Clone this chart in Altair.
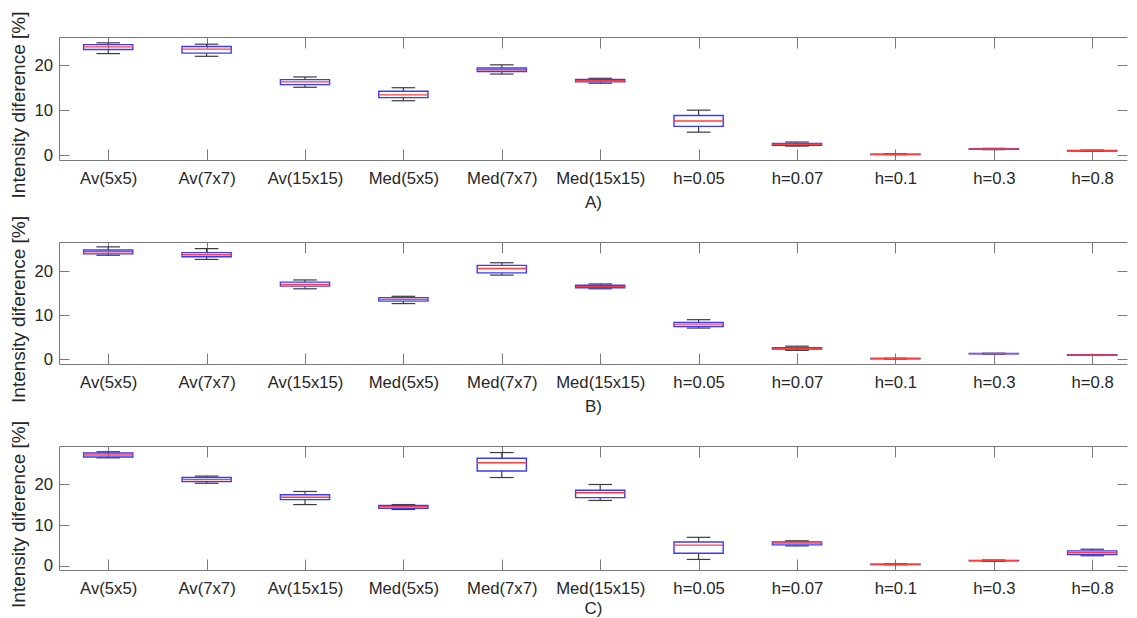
import json
import altair as alt
import pandas as pd

categories = ["Av(5x5)", "Av(7x7)", "Av(15x15)", "Med(5x5)", "Med(7x7)", "Med(15x15)",
              "h=0.05", "h=0.07", "h=0.1", "h=0.3", "h=0.8"]

# Panel A
a_upper = [25.0, 24.7, 17.4, 15.0, 20.1, 17.1, 10.0, 2.9, 0.25, 1.5, 1.1]
a_q3 = [24.6, 24.2, 16.8, 14.2, 19.4, 16.85, 8.8, 2.6, 0.2, 1.4, 1.0]
a_med = [24.1, 23.6, 16.3, 13.4, 19.0, 16.55, 7.6, 2.4, 0.15, 1.35, 0.95]
a_q1 = [23.5, 22.7, 15.7, 12.8, 18.6, 16.3, 6.4, 2.2, 0.12, 1.3, 0.9]
a_lower = [22.6, 22.0, 15.1, 12.1, 18.05, 16.0, 5.1, 2.0, 0.1, 1.2, 0.85]

# Panel B
b_upper = [25.5, 25.1, 18.0, 14.3, 21.9, 17.1, 9.0, 3.0, 0.25, 1.4, 1.1]
b_q3 = [24.8, 24.2, 17.5, 14.0, 21.3, 16.8, 8.4, 2.65, 0.2, 1.35, 1.05]
b_med = [24.4, 23.7, 17.0, 13.6, 20.6, 16.5, 8.0, 2.5, 0.2, 1.3, 1.0]
b_q1 = [23.9, 23.25, 16.6, 13.2, 19.6, 16.25, 7.45, 2.35, 0.15, 1.25, 0.95]
b_lower = [23.6, 22.65, 16.0, 12.65, 19.1, 16.0, 7.1, 2.05, 0.1, 1.2, 0.9]

# Panel C
c_upper = [27.9, 21.95, 18.2, 15.0, 27.7, 19.9, 7.0, 6.15, 0.5, 1.45, 4.1]
c_q3 = [27.6, 21.6, 17.4, 14.8, 26.3, 18.5, 5.85, 5.9, 0.45, 1.35, 3.7]
c_med = [27.1, 21.1, 16.8, 14.5, 25.2, 17.9, 5.1, 5.6, 0.4, 1.3, 3.3]
c_q1 = [26.6, 20.6, 16.2, 14.1, 23.2, 16.7, 3.1, 5.15, 0.35, 1.25, 2.8]
c_lower = [26.4, 20.2, 15.0, 13.8, 21.6, 16.0, 1.6, 4.9, 0.3, 1.15, 2.5]

panel_titles = ["A)", "B)", "C)"]
y_domains = [[-1.1, 26.3], [-1.04, 26.6], [-0.98, 29.3]]
y_ticks = [0, 10, 20]
y_title = "Intensity diference [%]"

FONT = "Liberation Sans"
TEXT = "#262626"
AXC = "#7a7a7a"
BLUE = "#3a3aff"
RED = "#ff3c3c"
WHISK = "#3c3c3c"

W = 1068
STEP = 98.4
x_domain = [0.5, 0.5 + W / STEP]
x_vals = list(range(1, len(categories) + 1))
label_expr = json.dumps(categories) + "[datum.value - 1]"


def panel(title, lower, q1, med, q3, upper, ydom, H, tpad):
    df = pd.DataFrame({"cat": categories, "pos": x_vals, "lower": lower, "q1": q1,
                       "med": med, "q3": q3, "upper": upper})
    base = alt.Chart(df).transform_calculate(
        box_l="datum.pos - 0.25", box_r="datum.pos + 0.25",
        cap_l="datum.pos - 0.12", cap_r="datum.pos + 0.12")
    xs = alt.Scale(domain=x_domain, nice=False, zero=False)
    ys = alt.Scale(domain=ydom, nice=False, zero=False)

    ax_x_lab = alt.Axis(orient="bottom", values=x_vals, labelExpr=label_expr, ticks=False,
                        tickSize=0, grid=False, domain=True, domainColor=AXC, labelFont=FONT,
                        labelFontSize=16.7, labelPadding=10.8, labelColor=TEXT, labelAngle=0,
                        labelOverlap=False, labelFlush=False, title=title, titleFont=FONT,
                        titleFontSize=17, titleFontWeight="normal", titlePadding=tpad,
                        titleColor=TEXT, minExtent=0)
    ax_x_top = alt.Axis(orient="bottom", offset=-H, values=x_vals, labels=False, ticks=True,
                        tickSize=11, tickColor=AXC, domain=True, domainColor=AXC, grid=False,
                        title=None, minExtent=0)
    ax_x_bot = alt.Axis(orient="top", offset=-H, values=x_vals, labels=False, ticks=True,
                        tickSize=11, tickColor=AXC, domain=False, grid=False, title=None,
                        minExtent=0)
    ax_y_lab = alt.Axis(orient="left", values=y_ticks, ticks=False, tickSize=0, grid=False,
                        domain=True, domainColor=AXC, labelFont=FONT, labelFontSize=16.7,
                        labelPadding=6.5, labelColor=TEXT, title=y_title, titleFont=FONT,
                        titleFontSize=19, titleFontWeight="normal", titlePadding=5.7,
                        titleColor=TEXT, titleY=H / 2 + 6, minExtent=0)
    ax_y_l = alt.Axis(orient="right", offset=-W, values=y_ticks, labels=False, ticks=True,
                      tickSize=10, tickColor=AXC, domain=False, grid=False, title=None,
                      minExtent=0)
    ax_y_r = alt.Axis(orient="left", offset=-W, values=y_ticks, labels=False, ticks=True,
                      tickSize=10, tickColor=AXC, domain=False, grid=False, title=None,
                      minExtent=0)

    whisk_up = base.mark_rule(color=WHISK, strokeWidth=1.2).encode(
        x=alt.X("pos:Q", scale=xs, axis=ax_x_lab),
        y=alt.Y("q3:Q", scale=ys, axis=ax_y_lab),
        y2="upper:Q")
    whisk_lo = base.mark_rule(color=WHISK, strokeWidth=1.2).encode(
        x=alt.X("pos:Q", scale=xs, axis=ax_x_top),
        y=alt.Y("lower:Q", scale=ys, axis=ax_y_l),
        y2="q1:Q")
    cap_up = base.mark_rule(color=WHISK, strokeWidth=1.2).encode(
        x=alt.X("cap_l:Q", scale=xs, axis=ax_x_bot),
        x2="cap_r:Q",
        y=alt.Y("upper:Q", scale=ys, axis=ax_y_r))
    cap_lo = base.mark_rule(color=WHISK, strokeWidth=1.2).encode(
        x=alt.X("cap_l:Q", scale=xs, axis=None),
        x2="cap_r:Q",
        y=alt.Y("lower:Q", scale=ys, axis=None))
    box = base.mark_rect(fillOpacity=0, stroke=BLUE, strokeWidth=1.4).encode(
        x=alt.X("box_l:Q", scale=xs, axis=None),
        x2="box_r:Q",
        y=alt.Y("q1:Q", scale=ys, axis=None),
        y2="q3:Q")
    median = base.mark_rule(color=RED, strokeWidth=1.4).encode(
        x=alt.X("box_l:Q", scale=xs, axis=None),
        x2="box_r:Q",
        y=alt.Y("med:Q", scale=ys, axis=None))

    return alt.layer(whisk_up, whisk_lo, cap_up, cap_lo, box, median).resolve_axis(
        x="independent", y="independent").properties(width=W, height=H)


pa = panel(panel_titles[0], a_lower, a_q1, a_med, a_q3, a_upper, y_domains[0], 123, 7)
pb = panel(panel_titles[1], b_lower, b_q1, b_med, b_q3, b_upper, y_domains[1], 122, 7)
pc = panel(panel_titles[2], c_lower, c_q1, c_med, c_q3, c_upper, y_domains[2], 124, 3)

chart = alt.vconcat(pa, pb, pc, spacing=82, bounds="flush").properties(
    padding={"left": 1, "top": 3, "right": 0, "bottom": 0}
).configure_view(strokeWidth=0)

chart.save("out.html", embed_options={"renderer": "svg", "actions": False})
